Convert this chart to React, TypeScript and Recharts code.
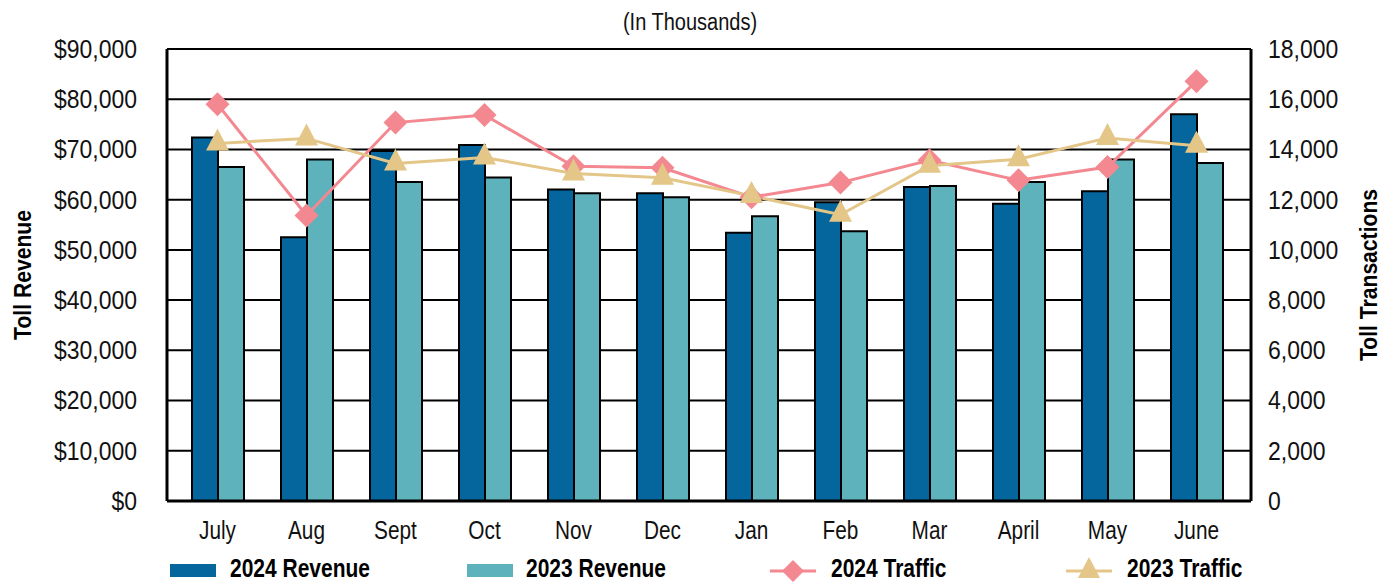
import React from 'react';
import { ComposedChart, Bar, Line, XAxis, YAxis, CartesianGrid } from 'recharts';

const months = ['July', 'Aug', 'Sept', 'Oct', 'Nov', 'Dec', 'Jan', 'Feb', 'Mar', 'April', 'May', 'June'];
const revenue2024 = [72400, 52500, 69700, 70900, 62000, 61300, 53400, 59500, 62500, 59200, 61700, 77000];
const revenue2023 = [66500, 68000, 63500, 64400, 61300, 60500, 56700, 53700, 62700, 63500, 68000, 67300];
const traffic2024 = [15800, 11370, 15070, 15370, 13330, 13270, 12100, 12680, 13570, 12770, 13300, 16720];
const traffic2023 = [14240, 14440, 13440, 13680, 13040, 12870, 12150, 11400, 13350, 13610, 14460, 14150];
const revenueTicks = [0, 10000, 20000, 30000, 40000, 50000, 60000, 70000, 80000, 90000];
const trafficTicks = [0, 2000, 4000, 6000, 8000, 10000, 12000, 14000, 16000, 18000];

const C_DARK = '#04669d';
const C_TEAL = '#5db2bb';
const C_PINK = '#f38891';
const C_TAN = '#e3c688';

const FONT = "'Liberation Sans', Arial, sans-serif";

const data = months.map((m, i) => ({
  month: m,
  rev2024: revenue2024[i],
  rev2023: revenue2023[i],
  tr2024: traffic2024[i],
  tr2023: traffic2023[i],
}));

const Diamond = (props: any) => {
  const { cx, cy } = props;
  if (cx == null || cy == null) return null;
  const r = 12;
  return <polygon points={`${cx},${cy - r} ${cx + r},${cy} ${cx},${cy + r} ${cx - r},${cy}`} fill={C_PINK} />;
};

const Triangle = (props: any) => {
  const { cx, cy } = props;
  if (cx == null || cy == null) return null;
  return <polygon points={`${cx},${cy - 15} ${cx + 11.5},${cy + 7} ${cx - 11.5},${cy + 7}`} fill={C_TAN} />;
};

const fmtDollar = (v: number) => '$' + v.toLocaleString('en-US');
const fmtNum = (v: number) => v.toLocaleString('en-US');

const LeftTick = (props: any) => {
  const { x, y, payload } = props;
  return (
    <g transform={`translate(${x},${y}) scale(0.92,1)`}>
      <text x={0} y={0} dy="0.355em" textAnchor="end" fontFamily={FONT} fontSize={25} fill="#111">{fmtDollar(payload.value)}</text>
    </g>
  );
};

const RightTick = (props: any) => {
  const { x, y, payload } = props;
  return (
    <g transform={`translate(${x},${y}) scale(0.92,1)`}>
      <text x={0} y={0} dy="0.355em" textAnchor="start" fontFamily={FONT} fontSize={25} fill="#111">{fmtNum(payload.value)}</text>
    </g>
  );
};

const BottomTick = (props: any) => {
  const { x, y, payload } = props;
  return (
    <g transform={`translate(${x},${y}) scale(0.8,1)`}>
      <text x={0} y={0} dy="0.72em" textAnchor="middle" fontFamily={FONT} fontSize={26} fill="#111">{payload.value}</text>
    </g>
  );
};

const LeftTitle = (props: any) => {
  const vb = props.viewBox;
  const cx = 22;
  const cy = vb.y + vb.height / 2;
  return (
    <g transform={`translate(${cx},${cy}) rotate(-90) scale(0.88,1)`}>
      <text x={0} y={0} dy="0.355em" textAnchor="middle" fontFamily={FONT} fontWeight="bold" fontSize={24} fill="#000">Toll Revenue</text>
    </g>
  );
};

const RightTitle = (props: any) => {
  const vb = props.viewBox;
  const cx = 1368;
  const cy = vb.y + vb.height / 2;
  return (
    <g transform={`translate(${cx},${cy}) rotate(-90) scale(0.88,1)`}>
      <text x={0} y={0} dy="0.355em" textAnchor="middle" fontFamily={FONT} fontWeight="bold" fontSize={24} fill="#000">Toll Transactions</text>
    </g>
  );
};

const legendItems = [
  { label: '2024 Revenue', kind: 'rect', color: C_DARK, left: 170, textX: 230 },
  { label: '2023 Revenue', kind: 'rect', color: C_TEAL, left: 467, textX: 526 },
  { label: '2024 Traffic', kind: 'diamond', color: C_PINK, left: 770, textX: 831 },
  { label: '2023 Traffic', kind: 'triangle', color: C_TAN, left: 1066, textX: 1127 },
];

const LY = 571;

const Overlay = () => (
  <svg width={1392} height={583} style={{ position: 'absolute', left: 0, top: 0, pointerEvents: 'none' }}>
    <g transform="translate(690,30) scale(0.87,1)">
      <text x={0} y={0} textAnchor="middle" fontFamily={FONT} fontSize={23} fill="#111">(In Thousands)</text>
    </g>
    {legendItems.map((it) => {
      const mid = it.left + 23;
      return (
        <g key={it.label}>
          {it.kind === 'rect' && <rect x={it.left} y={LY - 7} width={46} height={13} fill={it.color} />}
          {it.kind !== 'rect' && <line x1={it.left} y1={LY} x2={it.left + 46} y2={LY} stroke={it.color} strokeWidth={3} />}
          {it.kind === 'diamond' && (
            <polygon points={`${mid},${LY - 11} ${mid + 11},${LY} ${mid},${LY + 11} ${mid - 11},${LY}`} fill={it.color} />
          )}
          {it.kind === 'triangle' && (
            <polygon points={`${mid},${LY - 14} ${mid + 11},${LY + 7} ${mid - 11},${LY + 7}`} fill={it.color} />
          )}
          <g transform={`translate(${it.textX},${LY + 6}) scale(0.84,1)`}>
            <text x={0} y={0} fontFamily={FONT} fontWeight="bold" fontSize={25} fill="#000">{it.label}</text>
          </g>
        </g>
      );
    })}
  </svg>
);

export default function App() {
  return (
    <div style={{ position: 'absolute', left: 0, top: 0, width: 1392, height: 583, overflow: 'hidden', background: '#fff' }}>
      <div style={{ position: 'absolute', left: 0, top: 0 }}>
        <ComposedChart width={1392} height={583} data={data} margin={{ top: 49, right: 0, bottom: 32, left: 0 }} barGap={0} barSize={26}>
          <CartesianGrid yAxisId="left" vertical={false} horizontal stroke="#000" strokeWidth={2} horizontalValues={revenueTicks} />
          <XAxis dataKey="month" height={50} padding={{ left: 6, right: 10 }} tickLine={false} tickSize={0} tickMargin={19}
            axisLine={{ stroke: '#000', strokeWidth: 3 }} tick={<BottomTick />} interval={0} />
          <YAxis yAxisId="left" orientation="left" width={167} domain={[0, 90000]} ticks={revenueTicks}
            tickLine={false} tickSize={0} tickMargin={30} axisLine={{ stroke: '#000', strokeWidth: 3 }}
            tick={<LeftTick />} label={<LeftTitle />} />
          <YAxis yAxisId="right" orientation="right" width={141} domain={[0, 18000]} ticks={trafficTicks}
            tickLine={false} tickSize={0} tickMargin={17} axisLine={{ stroke: '#000', strokeWidth: 3 }}
            tick={<RightTick />} label={<RightTitle />} />
          <Bar yAxisId="left" dataKey="rev2024" name="2024 Revenue" fill={C_DARK} stroke="#000" strokeWidth={2} isAnimationActive={false} />
          <Bar yAxisId="left" dataKey="rev2023" name="2023 Revenue" fill={C_TEAL} stroke="#000" strokeWidth={2} isAnimationActive={false} />
          <Line yAxisId="right" dataKey="tr2024" name="2024 Traffic" stroke={C_PINK} strokeWidth={3} dot={<Diamond />} activeDot={false} isAnimationActive={false} />
          <Line yAxisId="right" dataKey="tr2023" name="2023 Traffic" stroke={C_TAN} strokeWidth={3} dot={<Triangle />} activeDot={false} isAnimationActive={false} />
        </ComposedChart>
      </div>
      <Overlay />
    </div>
  );
}
